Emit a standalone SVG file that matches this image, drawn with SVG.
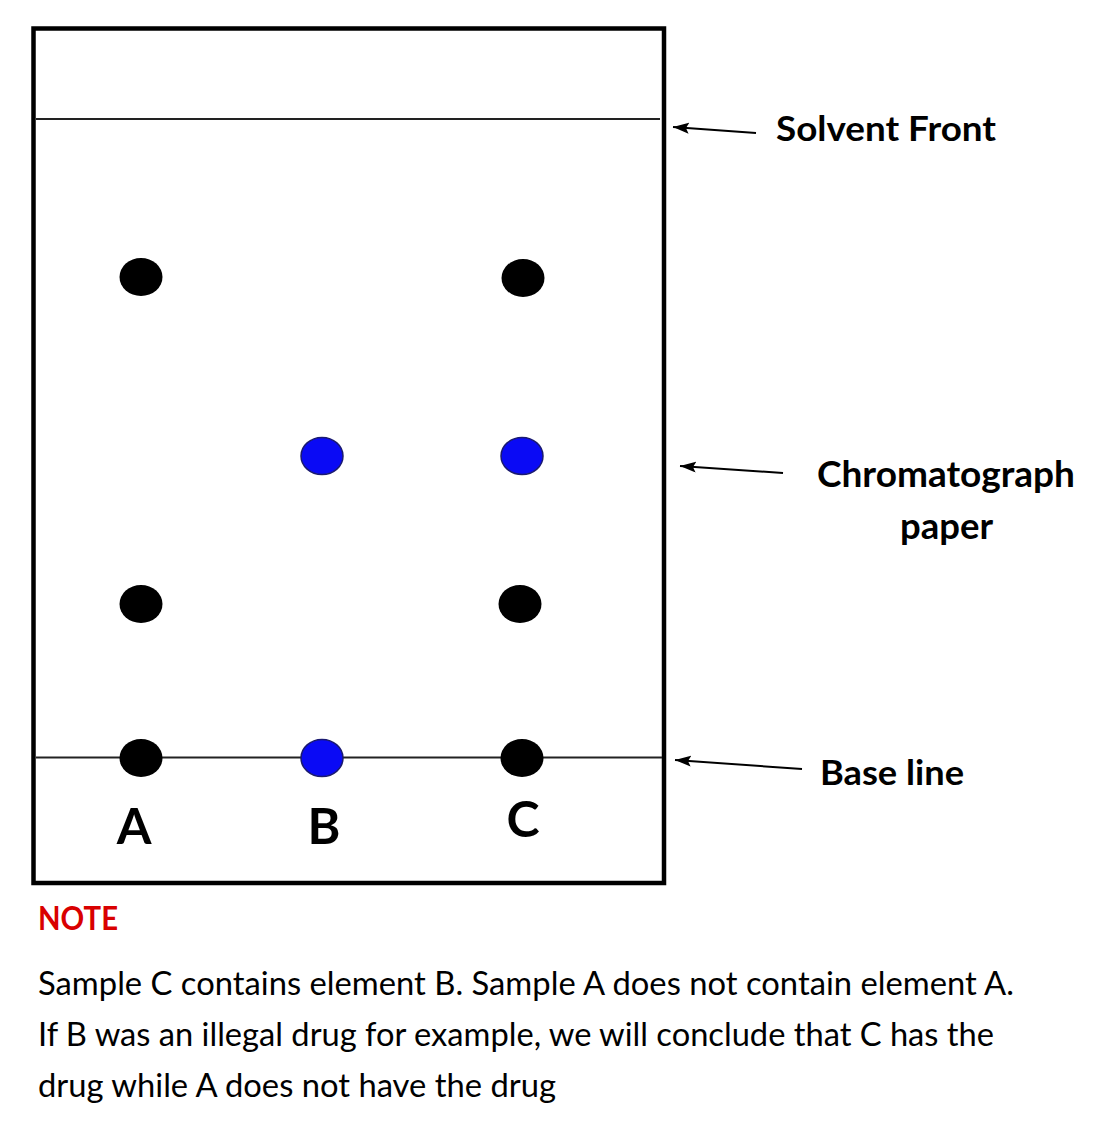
<svg xmlns="http://www.w3.org/2000/svg" width="1114" height="1121" viewBox="0 0 1114 1121">
<style>
.paper{fill:#fff;stroke:#000;stroke-width:4.5}
.rule{stroke:#222;stroke-width:2}
.dot{fill:#000}
.bdot{fill:#0a0af5;stroke:#1a1a70;stroke-width:1.5}
.conn{stroke:#000;stroke-width:2;fill:none;marker-end:url(#ah)}
.lbl{font-family:Lato,"Open Sans","Liberation Sans",sans-serif;font-weight:bold;fill:#000}
.body{font-family:Lato,"Open Sans","Liberation Sans",sans-serif;fill:#000;font-size:32px}
</style>
<defs>
<marker id="ah" markerUnits="userSpaceOnUse" markerWidth="17" markerHeight="12" refX="16" refY="5.5" orient="auto">
<path d="M0,0 L16,5.5 L0,11 L3,5.5 z" fill="#000"/>
</marker>
</defs>
<rect width="1114" height="1121" fill="#fff"/>
<g id="paper">
<rect class="paper" x="33.5" y="28.5" width="630.5" height="854.5"/>
</g>
<g id="solvent-front-line">
<line class="rule" x1="36" y1="119" x2="660" y2="119"/>
</g>
<g id="base-line-rule">
<line class="rule" x1="36" y1="757.5" x2="662" y2="757.5"/>
</g>
<g id="spots-A">
<ellipse class="dot" cx="141" cy="277" rx="21.5" ry="19"/>
<ellipse class="dot" cx="141" cy="604" rx="21.5" ry="19"/>
<ellipse class="dot" cx="141" cy="758" rx="21.5" ry="19"/>
</g>
<g id="spots-B">
<ellipse class="bdot" cx="322" cy="456" rx="21" ry="18.5"/>
<ellipse class="bdot" cx="322" cy="758" rx="21" ry="18.5"/>
</g>
<g id="spots-C">
<ellipse class="dot" cx="523" cy="278" rx="21.5" ry="19"/>
<ellipse class="bdot" cx="522" cy="456" rx="21" ry="18.5"/>
<ellipse class="dot" cx="520" cy="604" rx="21.5" ry="19"/>
<ellipse class="dot" cx="522" cy="758" rx="21.5" ry="19"/>
</g>
<g id="sample-labels">
<text class="lbl" x="134" y="844" font-size="50" text-anchor="middle">A</text>
<text class="lbl" x="324" y="844" font-size="50" text-anchor="middle">B</text>
<text class="lbl" x="523" y="837" font-size="50" text-anchor="middle">C</text>
</g>
<g id="connectors">
<line class="conn" x1="756" y1="133" x2="673" y2="127"/>
<line class="conn" x1="783" y1="473" x2="680" y2="466"/>
<line class="conn" x1="802" y1="769" x2="675" y2="760"/>
</g>
<g id="label-solvent-front">
<text class="lbl" x="776" y="141" font-size="35" textLength="220" lengthAdjust="spacingAndGlyphs">Solvent Front</text>
</g>
<g id="label-chromatograph-paper">
<text class="lbl" x="817" y="487" font-size="36" textLength="258" lengthAdjust="spacingAndGlyphs">Chromatograph</text>
<text class="lbl" x="900" y="539" font-size="36" textLength="93" lengthAdjust="spacingAndGlyphs">paper</text>
</g>
<g id="label-base-line">
<text class="lbl" x="820" y="785" font-size="34" textLength="144" lengthAdjust="spacingAndGlyphs">Base line</text>
</g>
<g id="note">
<text class="lbl" x="38" y="930" font-size="32" fill="#d90000" style="fill:#d90000" textLength="80" lengthAdjust="spacingAndGlyphs">NOTE</text>
<text class="body" x="38" y="995" textLength="976" lengthAdjust="spacingAndGlyphs">Sample C contains element B. Sample A does not contain element A.</text>
<text class="body" x="38" y="1046" textLength="956" lengthAdjust="spacingAndGlyphs">If B was an illegal drug for example, we will conclude that C has the</text>
<text class="body" x="38" y="1097" textLength="518" lengthAdjust="spacingAndGlyphs">drug while A does not have the drug</text>
</g>
</svg>
